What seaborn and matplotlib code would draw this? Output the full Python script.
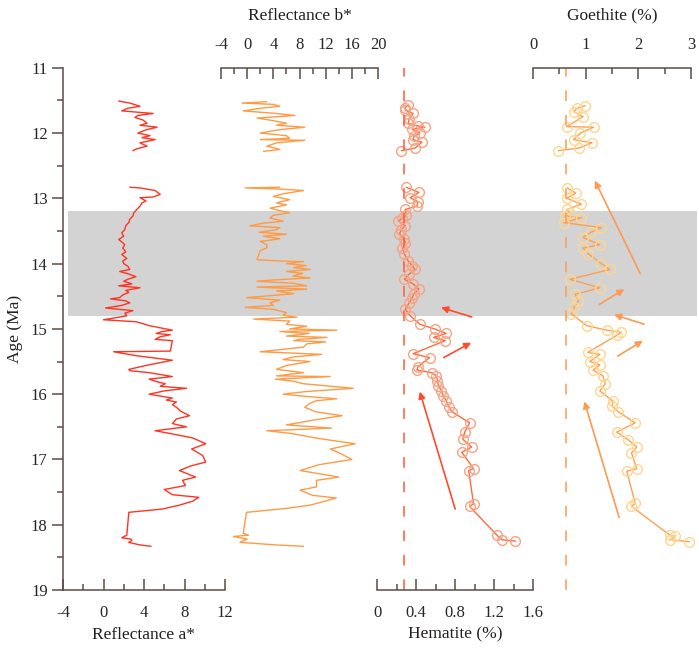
import numpy as np
import pandas as pd
import matplotlib
matplotlib.use('Agg')
import matplotlib.pyplot as plt
from matplotlib.ticker import MultipleLocator, FuncFormatter
import seaborn as sns

# DATA (ages in Ma, NaN marks a gap in the record)
a_age = [11.51, 11.54, 11.59, 11.62, 11.66, 11.70, 11.73, 11.76, 11.80, 11.85, 11.88, 11.91, 11.95,
         12.00, 12.04, 12.07, 12.10, 12.15, 12.20, 12.24, 12.27, np.nan,
         12.83, 12.84, 12.88, 12.94, 12.98, 12.99, 13.04, 13.07, 13.12, 13.17, 13.22, 13.27, 13.32,
         13.37, 13.42, 13.48, 13.53, 13.58, 13.63, 13.68, 13.71, 13.76, 13.82, 13.86, 13.92, 13.96,
         14.00, 14.04, 14.09, 14.12, 14.16, 14.20, 14.24, 14.27, 14.31, 14.34, 14.37, 14.41, 14.44,
         14.48, 14.52, 14.54, 14.57, 14.60, 14.64, 14.68, 14.72, 14.76, 14.80, 14.86, 14.89, 14.92,
         14.95, 14.98, 15.02, 15.04, 15.07, 15.09, 15.12, 15.16, 15.18, 15.34, 15.35, 15.41, 15.48,
         15.55, 15.62, 15.64, 15.67, 15.73, 15.77, 15.81, 15.84, 15.88, 15.91, 15.95, 16.00, 16.06,
         16.09, 16.12, 16.16, 16.20, 16.26, 16.33, 16.38, 16.45, 16.50, 16.56, 16.60, 16.67, 16.76,
         16.84, 16.94, 17.04, 17.10, 17.17, 17.27, 17.32, 17.40, 17.46, 17.54, 17.58, 17.64, 17.70,
         17.76, 17.81, 18.16, 18.20, 18.22, 18.24, 18.27, 18.31, 18.33]
a_val = [1.5, 2.6, 3.6, 2.4, 1.8, 4.9, 3.4, 3.1, 3.9, 4.3, 3.6, 5.3, 4.2,
         3.4, 4.6, 3.8, 5.1, 3.6, 4.3, 3.3, 2.9, np.nan,
         2.6, 3.6, 5.1, 5.6, 4.9, 3.6, 4.2, 3.8, 3.6, 3.3, 3.0, 2.9, 2.6,
         2.5, 2.2, 2.1, 1.8, 2.0, 1.5, 1.9, 2.1, 1.9, 2.2, 1.8, 2.3, 1.9,
         2.0, 2.4, 2.6, 1.6, 2.5, 3.2, 2.4, 2.0, 2.8, 1.5, 3.6, 2.2, 2.5,
         1.9, 1.6, 0.7, 2.2, 2.6, 1.8, 0.2, 2.9, 2.1, 2.3, 0.0, 3.2, 3.9,
         4.5, 5.5, 6.8, 5.8, 5.2, 6.6, 5.6, 5.1, 6.8, 6.6, 1.0, 3.2, 6.8,
         4.5, 2.5, 2.6, 4.5, 6.8, 4.5, 5.3, 6.1, 5.6, 8.2, 6.0, 4.5, 6.8,
         6.2, 7.2, 6.8, 7.2, 7.6, 8.5, 7.2, 6.8, 8.2, 5.1, 6.5, 8.8, 10.1,
         8.7, 9.8, 10.1, 8.6, 7.5, 9.1, 7.8, 8.1, 6.0, 6.8, 9.4, 8.8, 7.5,
         5.8, 2.5, 2.3, 1.8, 2.7, 2.8, 2.5, 3.6, 4.7]

b_age = [11.52, 11.54, 11.56, 11.59, 11.62, 11.66, 11.70, 11.73, 11.77, 11.81, 11.85, 11.88, 11.91,
         11.95, 12.00, 12.04, 12.08, 12.10, 12.11, 12.15, 12.20, 12.25, 12.28, np.nan,
         12.83, 12.84, 12.86, 12.88, 12.93, 12.97, 13.02, 13.07, 13.10, 13.15, 13.19, 13.22, 13.26,
         13.30, 13.35, 13.38, 13.42, 13.45, 13.48, 13.52, 13.55, 13.58, 13.62, 13.66, 13.71, 13.76,
         13.80, 13.94, 13.96, 13.97, 14.00, 14.03, 14.06, 14.09, 14.12, 14.15, 14.19, 14.22, 14.25,
         14.27, 14.30, 14.34, 14.36, 14.39, 14.42, 14.46, 14.50, 14.52, 14.56, 14.60, 14.64, 14.67,
         14.70, 14.75, 14.79, 14.82, 14.85, 14.88, 14.93, 14.96, 15.00, 15.02, 15.04, 15.07, 15.11,
         15.13, 15.16, 15.18, 15.20, 15.23, 15.28, 15.35, 15.39, 15.43, 15.47, 15.50, 15.56, 15.62,
         15.67, 15.72, 15.73, 15.77, 15.80, 15.84, 15.91, 15.96, 16.00, 16.04, 16.07, 16.10, 16.14,
         16.20, 16.27, 16.33, 16.40, 16.47, 16.52, 16.56, 16.60, 16.68, 16.76, 16.84, 16.92, 17.00,
         17.08, 17.17, 17.27, 17.32, 17.42, 17.47, 17.55, 17.59, 17.65, 17.70, 17.75, 17.81, 18.13,
         18.16, 18.18, 18.22, 18.27, 18.31, 18.33]
b_val = [3.0, -0.8, 4.0, 5.0, 2.0, -0.6, 4.5, 7.3, 1.5, 4.0, 6.0, 4.5, 8.8,
         4.8, 2.0, 6.0, 6.5, 2.0, 8.8, 4.5, 3.0, 5.0, 2.5, np.nan,
         5.0, -0.3, 5.5, 8.6, 5.5, 4.0, 6.5, 4.5, 6.0, 3.5, 5.0, 6.5, 4.0,
         3.5, 5.5, 2.5, 0.4, 5.0, 4.5, 1.8, 6.0, 2.5, 5.0, 2.0, 3.0, 3.0,
         2.0, 1.5, 5.0, 8.6, 6.0, 9.0, 7.1, 9.6, 6.0, 8.5, 7.0, 9.6, 4.0,
         1.5, 7.0, 9.1, 1.5, 9.1, 4.5, 7.1, 2.5, -0.1, 5.0, 3.5, 4.0, -0.3,
         4.0, 6.0, 5.5, 7.6, 1.0, 6.5, 6.0, 9.1, 6.5, 13.7, 5.0, 9.5, 6.0,
         12.2, 8.0, 7.1, 12.0, 9.1, 8.6, 2.0, 11.4, 7.0, 5.5, 9.6, 6.0, 4.5,
         8.6, 4.5, 12.7, 4.3, 7.0, 8.6, 16.2, 9.0, 5.5, 9.6, 13.7, 10.6, 9.6,
         8.8, 10.5, 14.5, 10.0, 6.0, 12.9, 3.0, 6.6, 11.0, 16.5, 12.7, 14.5, 16.0,
         11.0, 8.1, 14.0, 10.6, 10.6, 8.1, 10.0, 13.6, 11.5, 9.6, 6.0, -0.1, -0.6,
         0.2, -2.1, 0.0, -1.1, 4.5, 8.6]

hem_age = [11.57, 11.61, 11.65, 11.70, 11.78, 11.85, 11.89, 11.91, 11.94, 12.00, 12.05, 12.10,
           12.14, 12.23, 12.27, np.nan,
           12.83, 12.91, 12.99, 13.05, 13.12, 13.17, 13.26, 13.30, 13.35, 13.42, 13.48, 13.55,
           13.62, 13.68, 13.76, 13.85, 13.96, 14.03, 14.09, 14.16, 14.24, 14.31, 14.39, 14.46,
           14.52, 14.60, 14.70, 14.80, 14.93, 15.00, 15.07, 15.13, 15.18, 15.38, 15.44, 15.58,
           15.63, 15.67, 15.72, 15.80, 15.87, 15.95, 16.03, 16.10, 16.20, 16.27, 16.44, 16.58,
           16.69, 16.81, 16.89, 17.14, 17.17, 17.68, 17.72, 18.16, 18.23, 18.25]
hem_val = [0.32, 0.29, 0.29, 0.37, 0.33, 0.32, 0.42, 0.49, 0.36, 0.44, 0.38, 0.37,
           0.46, 0.39, 0.25, np.nan,
           0.30, 0.43, 0.34, 0.42, 0.41, 0.29, 0.30, 0.26, 0.22, 0.29, 0.25, 0.23,
           0.28, 0.29, 0.26, 0.28, 0.32, 0.36, 0.39, 0.33, 0.28, 0.37, 0.43, 0.38,
           0.36, 0.33, 0.29, 0.34, 0.44, 0.59, 0.71, 0.58, 0.70, 0.37, 0.54, 0.42,
           0.41, 0.56, 0.61, 0.62, 0.63, 0.66, 0.68, 0.71, 0.74, 0.77, 0.95, 0.90,
           0.88, 0.97, 0.87, 0.99, 0.94, 0.99, 0.95, 1.23, 1.28, 1.42]

goe_age = [11.58, 11.62, 11.67, 11.75, 11.90, 11.91, 12.00, 12.10, 12.15, 12.23, 12.27, np.nan,
           12.84, 12.92, 13.00, 13.09, 13.17, 13.22, 13.27, 13.30, 13.37, 13.45, 13.52, 13.60,
           13.71, 13.76, 13.85, 14.00, 14.09, 14.24, 14.37, 14.47, 14.57, 14.67, 14.77, 14.95,
           15.02, 15.05, 15.10, 15.36, 15.39, 15.50, 15.55, 15.63, 15.72, 15.84, 15.95, 16.11,
           16.18, 16.27, 16.44, 16.58, 16.70, 16.81, 16.90, 17.14, 17.18, 17.67, 17.72, 18.16,
           18.18, 18.23, 18.26]
goe_val = [0.99, 0.84, 0.77, 0.95, 0.64, 1.15, 0.90, 0.77, 1.12, 0.87, 0.48, np.nan,
           0.65, 0.81, 0.64, 0.92, 0.64, 0.70, 0.61, 0.92, 0.58, 1.30, 1.10, 0.95,
           1.27, 0.95, 1.05, 1.30, 1.46, 0.70, 1.27, 0.80, 0.86, 0.78, 0.73, 1.02,
           1.40, 1.68, 1.59, 1.04, 1.27, 1.08, 1.27, 1.14, 1.33, 1.37, 1.27, 1.52,
           1.50, 1.62, 1.94, 1.59, 1.81, 1.97, 1.87, 1.97, 1.78, 1.94, 1.87, 2.60,
           2.70, 2.60, 2.97]

band = (13.2, 14.8)
hem_ref = 0.28
goe_ref = 0.62

# arrows: (x_start, age_start, x_end, age_end)
hem_arrows = [(0.81, 17.80, 0.43, 15.92), (0.66, 15.46, 0.99, 15.19), (1.00, 14.83, 0.63, 14.66)]
goe_arrows = [(1.65, 17.93, 0.96, 16.07), (1.56, 15.44, 2.13, 15.16), (2.16, 14.94, 1.49, 14.77),
              (1.21, 14.65, 1.78, 14.37), (2.06, 14.19, 1.15, 12.69)]


def to_frame(ages, vals):
    df = pd.DataFrame({'age': ages, 'val': vals})
    df['seg'] = df['val'].isna().cumsum()
    return df.dropna()


sns.set_style('ticks')
plt.rcParams['font.family'] = ['Liberation Serif', 'DejaVu Serif']
plt.rcParams['axes.unicode_minus'] = False
plt.rcParams['text.color'] = '#231f20'
plt.rcParams['axes.labelcolor'] = '#231f20'

spine_col = '#5b4b44'
W, H = 699, 653
fig = plt.figure(figsize=(W / 100, H / 100), dpi=100)


def px_axes(x0, x1):
    return fig.add_axes([x0 / W, 1 - 590 / H, (x1 - x0) / W, (590 - 67.8) / H])


# grey band behind all panels
bg = px_axes(68, 697)
bg.axhspan(*band, color='#d3d3d3', lw=0)
bg.set_ylim(19, 11)
bg.axis('off')


def setup(ax, xlim, major, minor, side):
    ax.patch.set_alpha(0)
    ax.set_xlim(*xlim)
    ax.set_ylim(19, 11)
    for s in ax.spines.values():
        s.set_visible(False)
    ax.spines[side].set_visible(True)
    ax.spines[side].set_color(spine_col)
    ax.spines[side].set_linewidth(1.1)
    ax.xaxis.set_major_locator(MultipleLocator(major))
    ax.xaxis.set_minor_locator(MultipleLocator(minor))
    ax.xaxis.set_major_formatter(FuncFormatter(lambda v, p: f'{v:g}'))
    if side == 'top':
        ax.xaxis.set_ticks_position('top')
        ax.xaxis.set_label_position('top')
    ax.tick_params(axis='x', which='both', direction='in', color=spine_col, width=1.1,
                   labelsize=12, pad=11, top=(side == 'top'), bottom=(side == 'bottom'),
                   labeltop=(side == 'top'), labelbottom=(side == 'bottom'))
    ax.tick_params(axis='x', which='major', length=8)
    ax.tick_params(axis='x', which='minor', length=4)
    ax.tick_params(axis='y', which='both', left=False, labelleft=False)
    ax.set_ylabel('')


# Reflectance a*
ax1 = px_axes(63, 225)
df = to_frame(a_age, a_val)
sns.lineplot(data=df, x='val', y='age', units='seg', estimator=None, orient='y',
             color='#ff3322', lw=1.0, ax=ax1)
setup(ax1, (-4, 12), 4, 2, 'bottom')
ax1.spines['left'].set_visible(True)
ax1.spines['left'].set_color(spine_col)
ax1.spines['left'].set_linewidth(1.1)
ax1.yaxis.set_major_locator(MultipleLocator(1))
ax1.yaxis.set_minor_locator(MultipleLocator(0.5))
ax1.tick_params(axis='y', which='both', left=True, labelleft=True, direction='out',
                color=spine_col, width=1.1, labelsize=12, pad=3)
ax1.tick_params(axis='y', which='major', length=8)
ax1.tick_params(axis='y', which='minor', length=4)
ax1.set_ylabel('Age (Ma)', fontsize=12.5, labelpad=6)
ax1.set_xlabel('Reflectance a*', fontsize=12.5, labelpad=4)

# Reflectance b*
ax2 = px_axes(221, 378)
df = to_frame(b_age, b_val)
sns.lineplot(data=df, x='val', y='age', units='seg', estimator=None, orient='y',
             color='#ff9a45', lw=1.0, ax=ax2)
setup(ax2, (-4, 20), 4, 2, 'top')
ax2.set_xlabel('Reflectance b*', fontsize=12.5, labelpad=12)

# Hematite
ax3 = px_axes(377, 533)
df = to_frame(hem_age, hem_val)
sns.lineplot(data=df, x='val', y='age', units='seg', estimator=None, orient='y',
             color='#ff6a3d', lw=1.0, marker='o', markersize=7, markerfacecolor='none',
             markeredgecolor='#f7a383', markeredgewidth=1.0, clip_on=False, ax=ax3)
ax3.axvline(hem_ref, color='#ff5a3a', lw=1.1, ls=(0, (7, 9)))
for x0, y0, x1, y1 in hem_arrows:
    ax3.annotate('', xy=(x1, y1), xytext=(x0, y0),
                 arrowprops=dict(arrowstyle='-|>', color='#ff4b2b', lw=1.2, mutation_scale=10))
setup(ax3, (0, 1.6), 0.4, 0.2, 'bottom')
ax3.set_xlabel('Hematite (%)', fontsize=12.5, labelpad=4)

# Goethite
ax4 = px_axes(533, 691)
df = to_frame(goe_age, goe_val)
sns.lineplot(data=df, x='val', y='age', units='seg', estimator=None, orient='y',
             color='#ffa050', lw=1.0, marker='o', markersize=7, markerfacecolor='none',
             markeredgecolor='#ffd690', markeredgewidth=1.0, clip_on=False, ax=ax4)
ax4.axvline(goe_ref, color='#ff9a50', lw=1.1, ls=(0, (7, 9)))
for x0, y0, x1, y1 in goe_arrows:
    ax4.annotate('', xy=(x1, y1), xytext=(x0, y0),
                 arrowprops=dict(arrowstyle='-|>', color='#ff9a50', lw=1.2, mutation_scale=10))
setup(ax4, (0, 3), 1, 0.5, 'top')
ax4.set_xlabel('Goethite (%)', fontsize=12.5, labelpad=12)

fig.savefig('out.png', dpi=100)
